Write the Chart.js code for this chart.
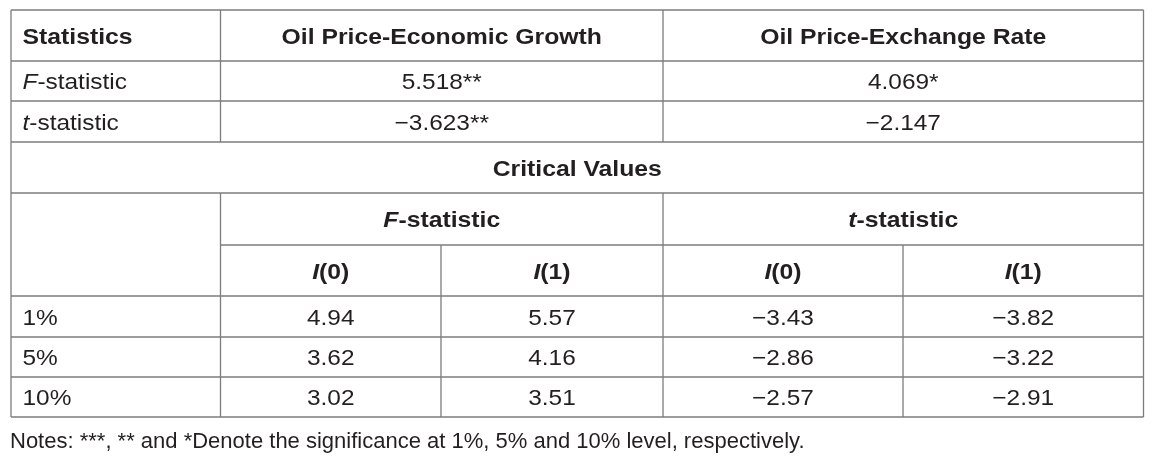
<!DOCTYPE html>
<html>
<head>
<meta charset="utf-8">
<title>Bounds test results</title>
<script src="https://cdn.jsdelivr.net/npm/chart.js@4.4.1/dist/chart.umd.min.js"></script>
<style>
  body { margin: 0; background: #fff; }
  canvas { display: block; background: #fff; }
</style>
</head>
<body>
<canvas id="tableChart" width="1163" height="461"></canvas>
<script>
// table content
var pairHeaders = ["Oil Price-Economic Growth", "Oil Price-Exchange Rate"];
var statLabels = ["_F_-statistic", "_t_-statistic"];
var growthStats = ["5.518**", "\u22123.623**"];
var exchangeStats = ["4.069*", "\u22122.147"];
var boundHeaders = ["_I_(0)", "_I_(1)", "_I_(0)", "_I_(1)"];
var levels = ["1%", "5%", "10%"];
var fLower = [4.94, 3.62, 3.02];
var fUpper = [5.57, 4.16, 3.51];
var tLower = [-3.43, -2.86, -2.57];
var tUpper = [-3.82, -3.22, -2.91];
var notes = "Notes: ***, ** and *Denote the significance at 1%, 5% and 10% level, respectively.";

function fmt(v) {
  return v < 0 ? "\u2212" + Math.abs(v).toFixed(2) : v.toFixed(2);
}

// grid edges in scale units
var colEdges = [0, 209.5, 430, 652, 892, 1132.5];
var rowEdges = [0, 51, 91, 132, 183, 235, 286, 327, 367, 407];
var notesRow = 437.5;

var FONT_SIZE = 22;
var TEXT_COLOR = "#231f20";
var LINE_COLOR = "#7c7c7c";

var cells = [];
function addCell(c0, c1, r0, r1, text, bold, align) {
  cells.push({ c0: c0, c1: c1, r0: r0, r1: r1, text: text, bold: bold, align: align || "center" });
}

addCell(0, 1, 0, 1, "Statistics", true, "left");
addCell(1, 3, 0, 1, pairHeaders[0], true);
addCell(3, 5, 0, 1, pairHeaders[1], true);
for (var i = 0; i < statLabels.length; i++) {
  addCell(0, 1, i + 1, i + 2, statLabels[i], false, "left");
  addCell(1, 3, i + 1, i + 2, growthStats[i], false);
  addCell(3, 5, i + 1, i + 2, exchangeStats[i], false);
}
addCell(0, 5, 3, 4, "Critical Values", true);
addCell(1, 3, 4, 5, "_F_-statistic", true);
addCell(3, 5, 4, 5, "_t_-statistic", true);
for (var j = 0; j < boundHeaders.length; j++) {
  addCell(j + 1, j + 2, 5, 6, boundHeaders[j], true);
}
for (var k = 0; k < levels.length; k++) {
  var r = k + 6;
  addCell(0, 1, r, r + 1, levels[k], false, "left");
  addCell(1, 2, r, r + 1, fmt(fLower[k]), false);
  addCell(2, 3, r, r + 1, fmt(fUpper[k]), false);
  addCell(3, 4, r, r + 1, fmt(tLower[k]), false);
  addCell(4, 5, r, r + 1, fmt(tUpper[k]), false);
}

// [row edge, from col, to col]
var hLines = [[0, 0, 5], [1, 0, 5], [2, 0, 5], [3, 0, 5], [4, 0, 5], [5, 1, 5],
              [6, 0, 5], [7, 0, 5], [8, 0, 5], [9, 0, 5]];
// [col edge, from row, to row]
var vLines = [[0, 0, 9], [5, 0, 9], [1, 0, 3], [1, 4, 9], [3, 0, 3], [3, 4, 9],
              [2, 5, 9], [4, 5, 9]];

function drawRich(ctx, text, x, y, align, bold, stretch) {
  var parts = text.split("_");
  var runs = [];
  var total = 0;
  for (var p = 0; p < parts.length; p++) {
    if (!parts[p]) continue;
    var italic = p % 2 === 1;
    ctx.font = (italic ? "italic " : "") + (bold ? "bold " : "") + FONT_SIZE + "px 'Liberation Sans', Arial, sans-serif";
    var w = ctx.measureText(parts[p]).width;
    runs.push({ t: parts[p], font: ctx.font, w: w });
    total += w;
  }
  var start = align === "left" ? x : x - total * stretch / 2;
  ctx.save();
  ctx.translate(start, y);
  ctx.scale(stretch, 1);
  ctx.fillStyle = TEXT_COLOR;
  ctx.textBaseline = "alphabetic";
  ctx.textAlign = "left";
  var off = 0;
  runs.forEach(function (run) {
    ctx.font = run.font;
    ctx.fillText(run.t, off, 0);
    off += run.w;
  });
  ctx.restore();
}

var tablePlugin = {
  id: "tableDraw",
  afterDraw: function (chart) {
    var ctx = chart.ctx;
    var xs = chart.scales.x;
    var ys = chart.scales.y;
    function px(c) { return xs.getPixelForValue(colEdges[c]); }
    function py(r) { return ys.getPixelForValue(rowEdges[r]); }

    ctx.save();
    ctx.strokeStyle = LINE_COLOR;
    ctx.lineWidth = 1.3;
    hLines.forEach(function (l) {
      ctx.beginPath();
      ctx.moveTo(px(l[1]), py(l[0]));
      ctx.lineTo(px(l[2]), py(l[0]));
      ctx.stroke();
    });
    vLines.forEach(function (l) {
      ctx.beginPath();
      ctx.moveTo(px(l[0]), py(l[1]));
      ctx.lineTo(px(l[0]), py(l[2]));
      ctx.stroke();
    });
    ctx.restore();

    cells.forEach(function (c) {
      var yMid = (py(c.r0) + py(c.r1)) / 2 + 8.3;
      var x = c.align === "left" ? px(c.c0) + 11.5 : (px(c.c0) + px(c.c1)) / 2;
      drawRich(ctx, c.text, x, yMid, c.align, c.bold, c.bold ? 1.125 : 1.11);
    });

    drawRich(ctx, notes, xs.getPixelForValue(-1), ys.getPixelForValue(notesRow), "left", false, 1);
  }
};

var ctx = document.getElementById("tableChart").getContext("2d");
var myChart = new Chart(ctx, {
  type: "scatter",
  data: { datasets: [{ data: [] }] },
  options: {
    responsive: false,
    animation: false,
    devicePixelRatio: 1,
    layout: { padding: { left: 11, right: 19.5, top: 10, bottom: 0 } },
    scales: {
      x: { type: "linear", min: 0, max: 1132.5, display: false },
      y: { type: "linear", min: 0, max: 451, reverse: true, display: false }
    },
    plugins: {
      legend: { display: false },
      tooltip: { enabled: false }
    }
  },
  plugins: [tablePlugin]
});
</script>
</body>
</html>
